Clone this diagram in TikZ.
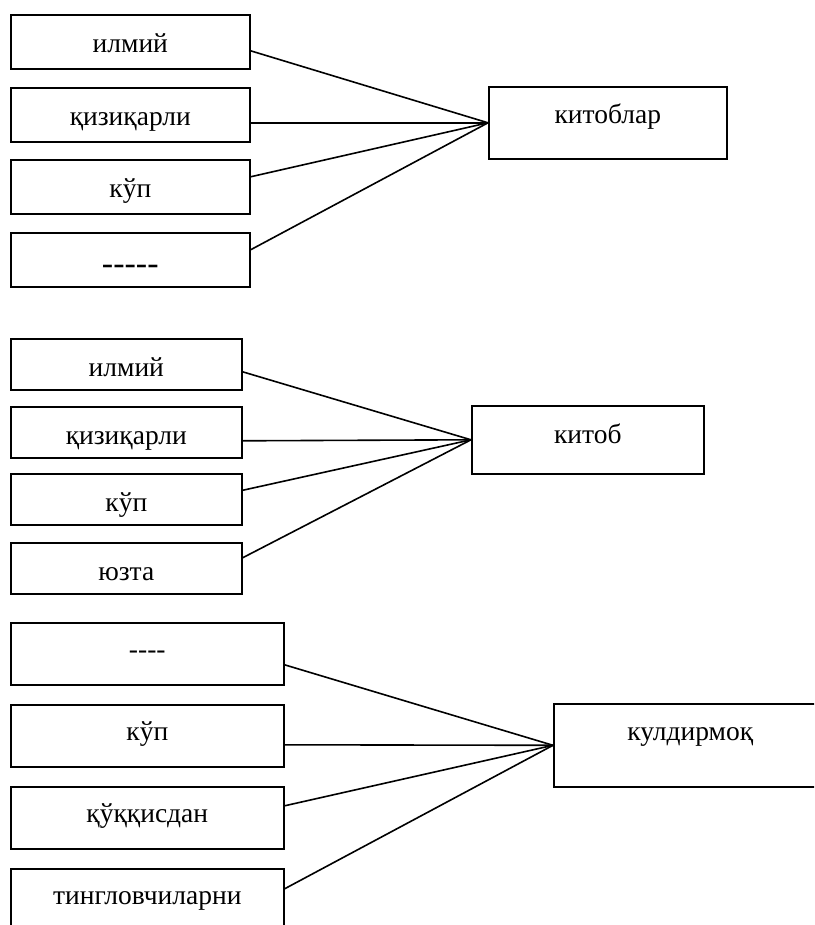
\documentclass[tikz,border=0pt]{standalone}
\usepackage{fontspec}
\setmainfont{Liberation Serif}[Ligatures=TeXOff]
\usepackage{tikz}

\begin{document}
\begin{tikzpicture}[x=1pt, y=-1pt, line width=1.6pt,
  box/.style={draw, rectangle, anchor=north west, inner sep=0pt, text height=38pt, font=\fontsize{27.5}{32}\selectfont},
  boxa/.style={box, minimum width=239pt, minimum height=54pt, text depth=16pt},
  boxb/.style={box, minimum width=231pt, minimum height=51pt, text depth=13pt},
  boxc/.style={box, minimum width=273pt, minimum height=62pt, text height=36pt, text depth=26pt}]

\useasboundingbox (0,0) rectangle (814,925);
\clip (0,0) rectangle (814,925);

% Grupo 1
\node[boxa] (a1) at (10, 14) {илмий};
\node[boxa] (a2) at (10, 87) {қизиқарли};
\node[boxa] (a3) at (10, 159) {кўп};
\node[boxa, text height=42pt, text depth=12pt, font=\fontsize{34}{40}\selectfont] (a4) at (10, 232) {-----};
\node[box, minimum width=238pt, minimum height=72pt, text height=37pt, text depth=35pt] (A) at (488, 86) {китоблар};

\draw ([yshift=-9pt]a1.east) -- (A.west);
\draw ([yshift=-8pt]a2.east) -- (A.west);
\draw ([yshift=10pt]a3.east) -- (A.west);
\draw ([yshift=10pt]a4.east) -- (A.west);

% Grupo 2
\node[boxb] (b1) at (10, 338) {илмий};
\node[boxb] (b2) at (10, 406) {қизиқарли};
\node[boxb] (b3) at (10, 473) {кўп};
\node[boxb] (b4) at (10, 542) {юзта};
\node[box, minimum width=232pt, minimum height=68pt, text depth=30pt] (B) at (471, 405) {китоб};

\draw ([yshift=-7.5pt]b1.east) -- (B.west);
\draw ([yshift=-8.5pt]b2.east) -- (B.west);
\draw ([yshift=9pt]b3.east) -- (B.west);
\draw ([yshift=10.5pt]b4.east) -- (B.west);

% Grupo 3
\node[boxc] (c1) at (10, 622) {----};
\node[boxc] (c2) at (10, 704) {кўп};
\node[boxc] (c3) at (10, 786) {қўққисдан};
\node[boxc] (c4) at (10, 868) {тингловчиларни};
\node[box, minimum width=273pt, minimum height=83pt, text height=37pt, text depth=46pt] (C) at (553, 703) {кулдирмоқ};

\draw ([yshift=-11pt]c1.east) -- (C.west);
\draw ([yshift=-9pt]c2.east) -- (C.west);
\draw ([yshift=12pt]c3.east) -- (C.west);
\draw ([yshift=11pt]c4.east) -- (C.west);

\end{tikzpicture}
\end{document}
